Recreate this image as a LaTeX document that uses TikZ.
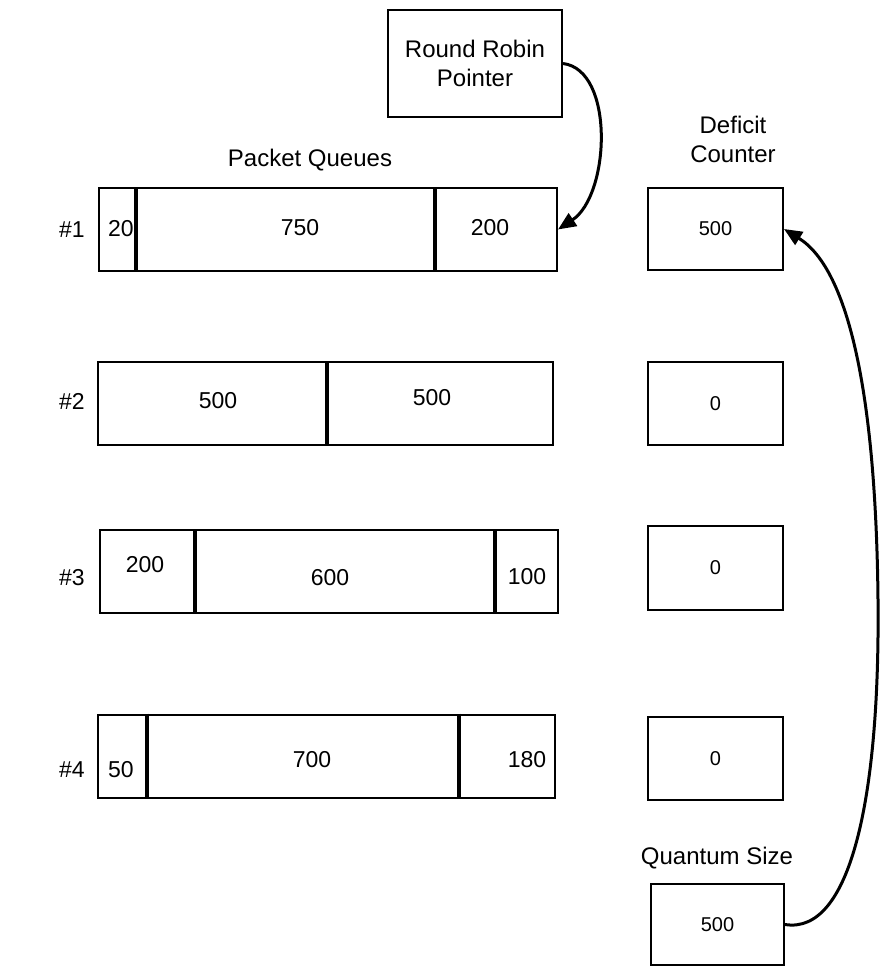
\documentclass[tikz,border=0pt]{standalone}
\usepackage{fontspec}
\setmainfont{Liberation Sans}
\usetikzlibrary{arrows.meta}
\tikzset{
  box/.style={draw, line width=2pt, inner sep=0pt, font=\fontsize{20}{24}\selectfont},
  lbl/.style={font=\fontsize{24}{29}\selectfont, align=center},
  num/.style={font=\fontsize{23}{28}\selectfont},
  divider/.style={line width=3.5pt},
  link/.style={line width=3pt, -{Triangle[length=18pt,width=15pt]}}
}
\begin{document}
\begin{tikzpicture}[x=1pt,y=-1pt]
\useasboundingbox (0,0) rectangle (880,966);
% pointer
\node[box, lbl, minimum width=174pt, minimum height=107pt] (rr) at (475,63.5) {Round Robin\\Pointer};
\node[lbl] (pq) at (310,160) {Packet Queues};
\node[lbl] (dc) at (733,139) {Deficit\\Counter};
% queues
\foreach \n/\x/\y/\w in {1/328/229.5/458, 2/325.5/403.5/455, 3/329/571.5/458, 4/326.5/756/457}
 \node[box, minimum width=\w pt, minimum height=83pt] (q\n) at (\x,\y) {};
\foreach \n/\x in {1/136, 1/435, 2/327, 3/195, 3/495, 4/147, 4/459}
 \draw[divider] (q\n.north -| \x,0) -- (q\n.south -| \x,0);
\foreach \i/\x/\y/\t in {a/121/229/20, b/300/228/750, c/490/228/200,
  d/218/401/500, e/432/398/500,
  f/145/565/200, g/330/578/600, h/527/577/100,
  j/121/770/50, k/312/760/700, l/527/760/180}
 \node[num] (v\i) at (\x,\y) {\t};
\foreach \n/\y in {1/230, 2/401, 3/578, 4/770}
 \node[num] (h\n) at (72,\y) {\#\n};
% deficit counters
\foreach \n/\y/\h/\t in {1/229/82/500, 2/403.5/83/0, 3/568/84/0, 4/758.5/83/0}
 \node[box, minimum width=135pt, minimum height=\h pt] (dc\n) at (715.5,\y) {\t};
\node[lbl] (qsl) at (717,858) {Quantum Size};
\node[box, minimum width=133pt, minimum height=81pt] (qs) at (717.5,924.5) {500};
% arrows
\draw[link] (rr.east) .. controls (615,70) and (610,195) .. (q1.east);
\draw[link] (qs.east) .. controls (850,935) and (880,800) .. (878,600)
 .. controls (876,400) and (850,270) .. (dc1.east);
\end{tikzpicture}
\end{document}
